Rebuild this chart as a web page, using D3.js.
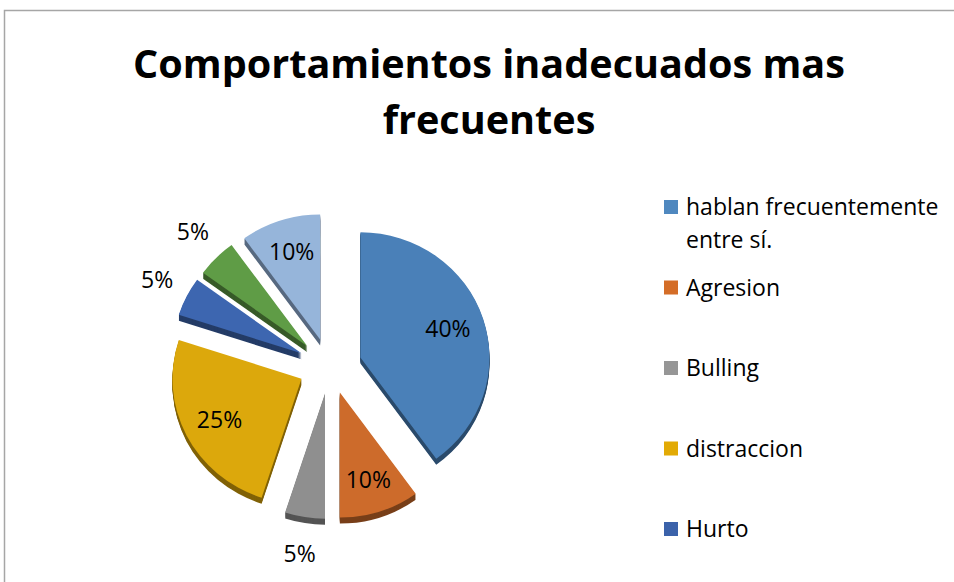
<!DOCTYPE html>
<html>
<head>
<meta charset="utf-8">
<script src="https://cdn.jsdelivr.net/npm/d3@7"></script>
<style>
  body { margin: 0; background: #fff; }
  #chart { width: 954px; height: 582px; }
</style>
</head>
<body>
<div id="chart"></div>
<script>

const categories = ["hablan frecuentemente entre sí.", "Agresion", "Bulling", "distraccion", "Hurto", "Otros", "Otros 2"];
const values = [40, 10, 5, 25, 5, 5, 10];
const labels = ["40%", "10%", "5%", "25%", "5%", "5%", "10%"];
const colors = ["#4a80b8", "#cd6b2b", "#8f8f8f", "#dca80c", "#3d66b0", "#5f9c46", "#96b5da"];
const legendColors = ["#4f88bf", "#d46d27", "#969696", "#e2aa05", "#3b62aa"];
const legendLines = [["hablan frecuentemente", "entre sí."], ["Agresion"], ["Bulling"], ["distraccion"], ["Hurto"]];

function drawChart() {
    const container = d3.select("#chart");
    container.selectAll("*").remove();

    const width = 954, height = 582;
    const svg = container.append("svg")
        .attr("width", width)
        .attr("height", height);

    // frame
    svg.append("rect")
        .attr("x", 4.5).attr("y", 10.5)
        .attr("width", 1000).attr("height", 1000)
        .attr("fill", "none")
        .attr("stroke", "#a6a6a6")
        .attr("stroke-width", 1.5);

    // title
    const title = svg.append("g")
        .style("font-family", "'Open Sans', sans-serif")
        .style("font-weight", "bold")
        .attr("text-anchor", "middle");
    const t1 = title.append("text").attr("x", 489).attr("y", 78)
        .style("font-size", "38px").text("Comportamientos inadecuados mas");
    const w = t1.node().getComputedTextLength();
    const fs = 38 * 712 / w;
    t1.style("font-size", fs + "px");
    title.append("text").attr("x", 489).attr("y", 134)
        .style("font-size", fs + "px").text("frecuentes");

    // pie (slightly tilted: vertical squash)
    const cx = 330, cy = 366, r = 129, explode = 32, depth = 6;
    const tiltExplode = 0.87, tiltFace = 0.97;
    const pie = d3.pie().sort(null).value(d => d)(values);
    const arc = d3.arc().innerRadius(0).outerRadius(r);

    const g = svg.append("g").attr("transform", `translate(${cx},${cy})`);
    const off = d => {
        const a = (d.startAngle + d.endAngle) / 2;
        return [explode * Math.sin(a), -explode * Math.cos(a) * tiltExplode];
    };

    const slices = g.selectAll(".slice")
        .data(pie)
        .enter()
        .append("g")
        .attr("class", "slice")
        .attr("transform", d => `translate(${off(d)})`);

    // side (extrusion)
    slices.each(function (d, i) {
        const s = d3.select(this);
        const dark = d3.color(colors[i]).darker(1.5);
        for (let k = depth; k >= 1; k--) {
            s.append("path")
                .attr("d", arc(d))
                .attr("transform", `translate(0,${k}) scale(1,${tiltFace})`)
                .attr("fill", dark);
        }
    });

    // top face
    slices.append("path")
        .attr("d", d => arc(d))
        .attr("transform", `scale(1,${tiltFace})`)
        .attr("fill", (d, i) => colors[i]);

    // labels
    slices.append("text")
        .attr("transform", d => {
            const a = (d.startAngle + d.endAngle) / 2;
            const lr = d.data >= 10 ? 92 : 162;
            return `translate(${lr * Math.sin(a)},${-lr * Math.cos(a)})`;
        })
        .attr("text-anchor", "middle")
        .attr("dy", "0.35em")
        .style("font-family", "'Open Sans', sans-serif")
        .style("font-size", "23px")
        .style("fill", "#000")
        .text((d, i) => labels[i]);

    // legend
    const legend = svg.append("g")
        .style("font-family", "'Open Sans', sans-serif")
        .style("font-size", "23px");
    const ly = d3.scaleLinear().domain([0, 4]).range([207, 529]);
    legendLines.forEach((lines, i) => {
        const y = i === 0 ? 207 : ly(i);
        legend.append("rect")
            .attr("x", 664).attr("y", y - 7)
            .attr("width", 14).attr("height", 14)
            .attr("fill", legendColors[i]);
        lines.forEach((txt, j) => {
            legend.append("text")
                .attr("x", 686).attr("y", y + 8 + j * 33)
                .text(txt);
        });
    });
}

drawChart();
</script>
</body>
</html>
